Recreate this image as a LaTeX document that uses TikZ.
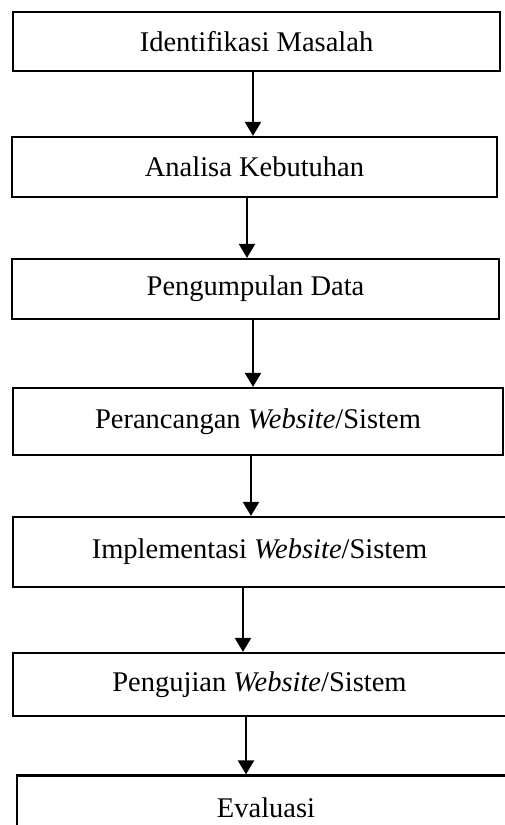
\documentclass[tikz,border=0pt]{standalone}
\usepackage{fontspec}
\setmainfont{Liberation Serif}
\usetikzlibrary{arrows.meta}

\begin{document}
\begin{tikzpicture}[x=1pt,y=-1pt,
  stepbox/.style={draw=black,fill=white,line width=2.2pt,inner sep=0pt,font=\fontsize{28.5}{33}\selectfont},
  flow/.style={draw=black,line width=2.2pt,-{Triangle[width=16pt,length=14pt]}}
]
\useasboundingbox[fill=white] (0,0) rectangle (504,825);
\node[stepbox,minimum width=487pt,minimum height=59pt] (ident) at (256.5,41.5) {Identifikasi Masalah};
\node[stepbox,minimum width=485pt,minimum height=60pt] (analisa) at (254.5,167) {Analisa Kebutuhan};
\node[stepbox,minimum width=487pt,minimum height=60pt] (kumpul) at (255.5,289) {Pengumpulan Data};
\node[stepbox,minimum width=490pt,minimum height=67pt] (rancang) at (258,421.5) {Perancangan \textit{Website}/Sistem};
\node[stepbox,minimum width=493pt,minimum height=70pt] (implement) at (259.5,552) {Implementasi \textit{Website}/Sistem};
\node[stepbox,minimum width=493pt,minimum height=63pt] (uji) at (259.5,684.5) {Pengujian \textit{Website}/Sistem};
\node[stepbox,minimum width=498pt,minimum height=65pt] (evaluasi) at (266,808) {Evaluasi};
\draw[flow] ([xshift=-3.5pt]ident.south) -- ([xshift=-1.5pt]analisa.north);
\draw[flow] ([xshift=-7.5pt]analisa.south) -- ([xshift=-8.5pt]kumpul.north);
\draw[flow] ([xshift=-2.5pt]kumpul.south) -- ([xshift=-5pt]rancang.north);
\draw[flow] ([xshift=-7pt]rancang.south) -- ([xshift=-8.5pt]implement.north);
\draw[flow] ([xshift=-16.5pt]implement.south) -- ([xshift=-16.5pt]uji.north);
\draw[flow] ([xshift=-13.5pt]uji.south) -- ([xshift=-20pt]evaluasi.north);
\end{tikzpicture}
\end{document}
